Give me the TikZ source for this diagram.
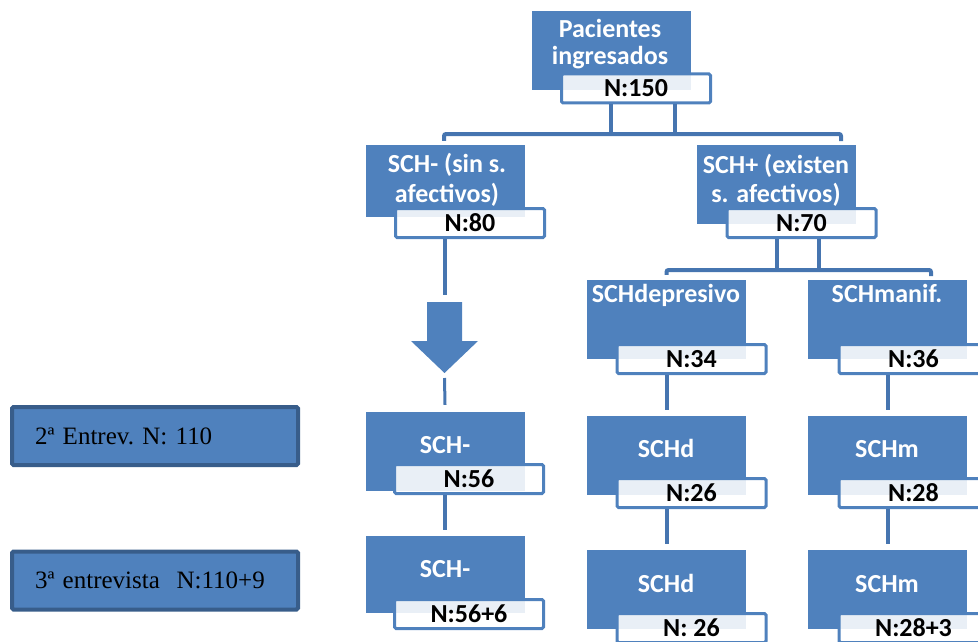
\documentclass[tikz,border=0pt]{standalone}
\usepackage{fontspec}
\setmainfont{Carlito}
\newfontfamily\serifa{Liberation Serif}
\usetikzlibrary{positioning}
\definecolor{azul}{RGB}{79,129,189}
\definecolor{azulosc}{RGB}{56,93,138}
\definecolor{linea}{RGB}{70,117,176}

\begin{document}
\begin{tikzpicture}[x=1pt, y=-1pt,
    caja/.style={fill=azul, inner sep=0pt, minimum width=159pt, minimum height=79pt},
    etiq/.style={draw=azul, line width=3pt, fill=white, fill opacity=0.88, text opacity=1,
        rounded corners=1.5pt, inner sep=0pt, minimum width=149pt, minimum height=29pt,
        font=\fontsize{26}{27}\selectfont\bfseries},
    titulo/.style={text=white, align=center, anchor=base, inner sep=0pt,
        font=\fontsize{26}{27}\selectfont\bfseries},
    conec/.style={draw=linea, line width=4pt},
    entrev/.style={fill=azul, draw=azulosc, line width=4pt, rounded corners=1.5pt,
        minimum width=286pt, minimum height=58pt, inner xsep=23pt, text width=240pt,
        align=left, font=\serifa\frenchspacing\fontsize{25}{30}\selectfont}]
    \clip (0,0) rectangle (978,642);

    % caja superior (anchor base = ultima linea)
    \node[caja] (pac) at (611,50.5) {};
    \node[titulo] (pac-t) at (610,65) {Pacientes\\ingresados};
    \node[etiq] (pac-n) at (636,88.5) {N:150};

    % primer nivel
    \node[caja, minimum height=72pt] (sin) at (445.5,181) {};
    \node[titulo] (sin-t) at (447,202) {SCH- (sin s.\\[3pt]afectivos)};
    \node[etiq] (sin-n) at (470,223) {N:80};
    \node[caja] (con) at (776.5,184.5) {};
    \node[titulo] (con-t) at (776,202) {SCH+ (existen\\[2pt]s. afectivos)};
    \node[etiq] (con-n) at (801.5,223) {N:70};

    \coordinate (barra1) at (0,134);
    \draw[conec] ([xshift=-25pt]pac-n.south) -- ([xshift=-25pt]pac-n.south |- barra1);
    \draw[conec] ([xshift=39pt]pac-n.south) -- ([xshift=39pt]pac-n.south |- barra1);
    \draw[conec, rounded corners=2pt] ([xshift=-1.5pt, yshift=4pt]sin.north)
        |- (barra1 -| con.north) -- ++(64.5,0) -- ++(0,7);

    % subtipos
    \node[caja] (dep) at (666.5,319.5) {};
    \node[titulo] (dep-t) at (666,302) {SCHdepresivo};
    \node[etiq] (dep-n) at (691.5,359) {N:34};
    \node[caja] (man) at (887,319.5) {};
    \node[titulo] (man-t) at (887,302) {SCHmanif.};
    \node[etiq] (man-n) at (913.5,359) {N:36};

    \coordinate (barra2) at (0,270);
    \draw[conec] ([xshift=-24.5pt]con-n.south) -- ([xshift=-24.5pt]con-n.south |- barra2);
    \draw[conec] ([xshift=17.5pt]con-n.south) -- ([xshift=17.5pt]con-n.south |- barra2);
    \draw[conec, rounded corners=2pt] ([yshift=5pt]dep.north)
        |- (barra2 -| man.north) -- ++(44,0) -- ++(0,6);

    % 2a entrevista
    \node[entrev] (ent2) at (155,436) {2ª Entrev. N: 110};
    \node[caja] (sin2) at (445,451.5) {};
    \node[titulo] (sin2-t) at (445,453) {SCH-};
    \node[etiq] (sin2-n) at (469,479) {N:56};
    \node[caja] (dep2) at (666.5,455) {};
    \node[titulo] (dep2-t) at (666,457) {SCHd};
    \node[etiq] (dep2-n) at (691.5,493) {N:26};
    \node[caja] (man2) at (887.5,455) {};
    \node[titulo] (man2-t) at (887,457) {SCHm};
    \node[etiq] (man2-n) at (913.5,493) {N:28};

    % flecha gruesa
    \coordinate (flecha) at (444.5,302);
    \coordinate (punta) at (444.5,373);
    \draw[conec] (sin-n.south -| flecha) -- ([yshift=7pt]flecha);
    \fill[azul] (427,302) -- (462,302) -- (462,341) -- (478,341) -- (punta)
        -- (411,341) -- (427,341) -- cycle;
    \draw[conec, line width=3pt] ([yshift=-5pt]punta) -- ([yshift=7pt]sin2.north);
    \draw[conec] (dep-n.south -| dep2.north) -- ([yshift=5pt]dep2.north);
    \draw[conec] (man-n.south -| man2.north) -- ([yshift=5pt]man2.north);

    % 3a entrevista
    \node[entrev] (ent3) at (155,580.5) {3ª entrevista\ \ N:110+9};
    \node[caja, minimum height=77pt] (sin3) at (445,574.5) {};
    \node[titulo] (sin3-t) at (445,577) {SCH-};
    \node[etiq] (sin3-n) at (469,614) {N:56+6};
    \node[caja] (dep3) at (666.5,589.5) {};
    \node[titulo] (dep3-t) at (666,592) {SCHd};
    \node[etiq] (dep3-n) at (691.5,628) {N: 26};
    \node[caja] (man3) at (887.5,589.5) {};
    \node[titulo] (man3-t) at (887,592) {SCHm};
    \node[etiq] (man3-n) at (913.5,628) {N:28+3};

    \draw[conec] (sin2-n.south -| sin3.north) -- ([yshift=6pt]sin3.north);
    \draw[conec] (dep2-n.south -| dep3.north) -- ([yshift=6pt]dep3.north);
    \draw[conec] (man2-n.south -| man3.north) -- ([yshift=6pt]man3.north);
\end{tikzpicture}
\end{document}
